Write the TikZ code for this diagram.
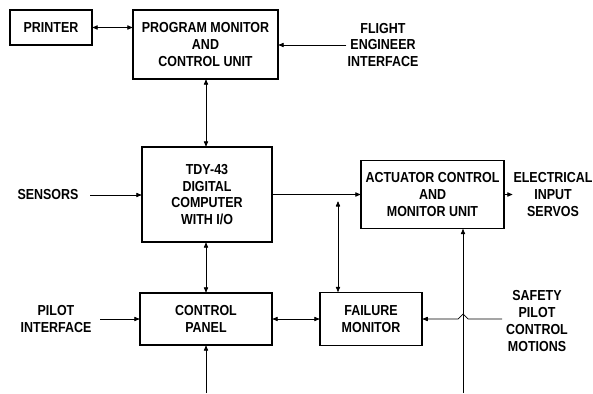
\documentclass[tikz,border=0pt]{standalone}
\usepackage{fontspec}
\newfontfamily\diagfont{Liberation Sans}[FakeStretch=0.86]
\usepackage{tikz}
\usetikzlibrary{arrows.meta,positioning,calc}

\begin{document}
\begin{tikzpicture}[x=1pt, y=-1pt, >={Latex[length=6pt,width=5pt,round]},
    unitbox/.style={draw, line width=1.4pt, rectangle, align=center, inner sep=0pt, font=\diagfont\bfseries\fontsize{14.5}{16.8}\selectfont},
    sidetext/.style={align=center, inner sep=1pt, font=\diagfont\bfseries\fontsize{14.5}{16.8}\selectfont},
    link/.style={line width=0.7pt}]
    \useasboundingbox (0,0) rectangle (593,393);
    % Units
    \node [unitbox, minimum width=82pt, minimum height=35pt] (printer) at (51,27.5) {PRINTER};
    \node [unitbox, minimum width=145pt, minimum height=69pt] (pmcu) at (205.5,44.5) {PROGRAM MONITOR\\AND\\CONTROL UNIT};
    \node [unitbox, minimum width=130pt, minimum height=95pt] (computer) at (207,194.5) {TDY-43\\DIGITAL\\COMPUTER\\WITH I/O};
    \node [unitbox, minimum width=143pt, minimum height=68pt] (actuator) at (432.5,194.5) {ACTUATOR CONTROL\\AND\\MONITOR UNIT};
    \node [unitbox, minimum width=132pt, minimum height=52pt] (panel) at (206,319) {CONTROL\\PANEL};
    \node [unitbox, minimum width=102pt, minimum height=53pt] (failure) at (371,319) {FAILURE\\MONITOR};

    % Outside interfaces
    \node [sidetext] (flight) at (383,45) {FLIGHT\\ENGINEER\\INTERFACE};
    \node [sidetext] (sensors) at (48,195) {SENSORS};
    \node [sidetext] (servos) at (553,194.5) {ELECTRICAL\\INPUT\\SERVOS};
    \node [sidetext] (pilot) at (56,319) {PILOT\\INTERFACE};
    \node [sidetext] (safety) at (537,321) {SAFETY\\PILOT\\CONTROL\\MOTIONS};
    \coordinate (spine) at (206,0);
    \coordinate (junction) at (338,194.5);
    \coordinate (actfeed) at (463,393);
    \coordinate (panelfeed) at (206,393);
    \coordinate (safetyend) at (502,319);
    \coordinate (sensorsend) at (90,195);
    \coordinate (pilotend) at (100,319);

    % Connections
    \draw [link, <->] (printer.east) -- (printer.east -| pmcu.west);
    \draw [link, ->] (flight.west) -- (pmcu.east |- flight.west);
    \draw [link, <->] (pmcu.south -| spine) -- (computer.north -| spine);
    \draw [link, ->] (sensorsend) -- (computer.west |- sensorsend);
    \draw [link, ->] (computer.east) -- (actuator.west);
    \draw [link, <->] ($(junction)+(0,7)$) -- (junction |- failure.north);
    \draw [link, <->] (computer.south -| spine) -- (panel.north -| spine);
    \draw [link, ->] (pilotend) -- (panel.west);
    \draw [link, <->] (panel.east) -- (failure.west);
    \draw [link, ->] (safetyend) -- (468,319) -- (463,314) -- (458,319) -- (failure.east);
    \draw [link, ->] (actfeed) -- (actfeed |- actuator.south);
    \draw [link, ->] (panelfeed) -- (panel.south -| panelfeed);
    \draw [link, ->] (actuator.east) -- (servos.west);
\end{tikzpicture}
\end{document}
